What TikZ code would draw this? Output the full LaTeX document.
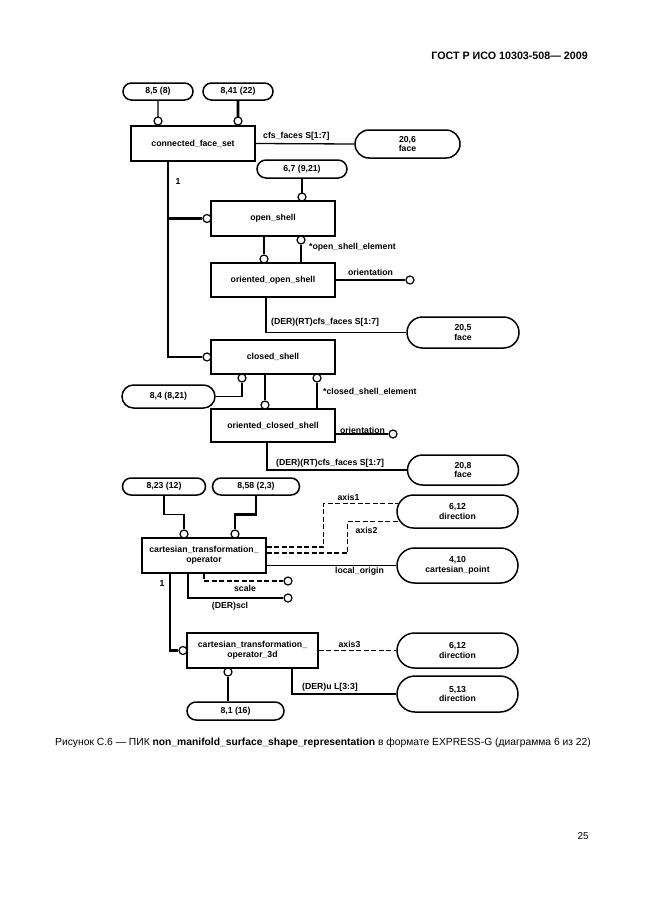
\documentclass[tikz,border=0pt]{standalone}
\usepackage{fontspec}
\setmainfont{Liberation Sans}
\usetikzlibrary{shapes.misc,calc}
\newcommand\dgf{\bfseries\fontsize{8.7}{9.6}\selectfont}
\begin{document}
\begin{tikzpicture}[x=1pt,y=-1pt,
  font=\dgf,
  ebox/.style={draw,line width=1.5pt,inner sep=0pt,align=center,minimum width=124pt,minimum height=35pt},
  oval/.style={rounded rectangle,draw,line width=1.5pt,inner sep=0pt,align=center},
  ln/.style={line width=1.3pt},
  thk/.style={line width=2.8pt},
  dsh/.style={line width=1.3pt,dash pattern=on 5pt off 2.5pt},
  circ/.style={circle,draw,fill=white,line width=1.2pt,minimum size=8pt,inner sep=0pt},
  lbl/.style={inner sep=0pt,font=\dgf}
]
\useasboundingbox (0,0) rectangle (646,913);
\fill[white] (0,0) rectangle (646,913);

% header, caption, page number
\node[anchor=east,inner sep=0pt,font=\bfseries\fontsize{10.7}{12}\selectfont] (hdr) at (588,56) {ГОСТ Р ИСО 10303-508— 2009};
\node[anchor=west,inner sep=0pt,font=\fontsize{10.3}{11}\selectfont] (cap) at (55,743) {Рисунок С.6 — ПИК \textbf{non\_manifold\_surface\_shape\_representation} в формате EXPRESS-G (диаграмма 6 из 22)};
\node[anchor=east,inner sep=0pt,font=\fontsize{10}{11}\selectfont] (pg) at (589,836) {25};

% ovals (references)
\node[oval,minimum width=70pt,minimum height=17pt] (o85) at (158,91.5) {8,5 (8)};
\node[oval,minimum width=70pt,minimum height=17pt] (o841) at (238,91.5) {8,41 (22)};
\node[oval,minimum width=105pt,minimum height=28pt] (o206) at (407.5,144) {20,6\\face};
\node[oval,minimum width=90pt,minimum height=18pt] (o67) at (302,169) {6,7 (9,21)};
\node[oval,minimum width=112pt,minimum height=31pt] (o205) at (463,332.5) {20,5\\face};
\node[oval,minimum width=93pt,minimum height=23pt] (o84) at (168.5,396.5) {8,4 (8,21)};
\node[oval,minimum width=111pt,minimum height=30pt] (o208) at (463,470) {20,8\\face};
\node[oval,minimum width=83pt,minimum height=17pt] (o823) at (164,486.5) {8,23 (12)};
\node[oval,minimum width=87pt,minimum height=17pt] (o858) at (256,486.5) {8,58 (2,3)};
\node[oval,minimum width=121pt,minimum height=33pt] (o612a) at (457.5,511.5) {6,12\\direction};
\node[oval,minimum width=121pt,minimum height=35pt] (o410) at (457.5,565.5) {4,10\\cartesian\_point};
\node[oval,minimum width=121pt,minimum height=35pt] (o612b) at (457.5,650.5) {6,12\\direction};
\node[oval,minimum width=121pt,minimum height=36pt] (o513) at (457.5,694) {5,13\\direction};
\node[oval,minimum width=97pt,minimum height=18pt] (o81) at (235.5,711) {8,1 (16)};

% entity boxes
\node[ebox] (cfs) at (193,143.5) {connected\_face\_set};
\node[ebox] (os) at (273,218.5) {open\_shell};
\node[ebox,minimum height=34pt] (oos) at (273,280) {oriented\_open\_shell};
\node[ebox,minimum height=34pt] (cs) at (273,357) {closed\_shell};
\node[ebox,minimum height=33pt] (ocs) at (273,425.5) {oriented\_closed\_shell};
\node[ebox] (cto) at (204,555.5) {cartesian\_transformation\_\\operator};
\node[ebox,minimum width=131pt] (cto3) at (252.5,650.5) {cartesian\_transformation\_\\operator\_3d};

% helper coordinates
\coordinate (vx) at (168,0);

% connected_face_set
\draw[ln] (o85) -- (158,121) node[circ] (c85) {};
\draw[thk] (o841) -- (238,121) node[circ] (c841) {};
\draw[ln] (cfs.east) -- (o206.west);
\node[lbl,anchor=west] (l1) at (263,136) {cfs\_faces S[1:7]};
\node[lbl] (n1a) at (178,182) {1};

% supertype tree
\node[circ] (cos) at (207,218.5) {};
\node[circ] (ccs) at (207,357) {};
\draw[thk] (cfs.south -| vx) |- (ccs);
\draw[thk] (vx |- cos) -- (cos);

% open_shell
\draw[ln] (o67) -- (302,197) node[circ] (c67) {};
\node[circ] (cose) at (301,240) {};
\draw[ln] (cose) -- (cose |- oos.north);
\node[lbl,anchor=west] (l2) at (309,247) {*open\_shell\_element};
\node[circ] (coos) at (264,259) {};
\draw[thk] (os.south -| coos) -- (coos);
\node[circ] (cor1) at (410,280) {};
\draw[ln] (oos.east) -- (cor1);
\node[lbl] (l3) at (370.5,272) {orientation};
\coordinate (x1) at (266,0);
\draw[ln] (oos.south -| x1) |- (o205.west);
\node[lbl,anchor=west] (l4) at (271,322) {(DER)(RT)cfs\_faces S[1:7]};

% closed_shell
\node[circ] (ccs1) at (242,378) {};
\draw[ln] (ccs1) |- (o84);
\node[circ] (cocs) at (265,405) {};
\draw[thk] (cs.south -| cocs) -- (cocs);
\node[circ] (ccse) at (317,378) {};
\draw[ln] (ccse) -- (ccse |- ocs.north);
\node[lbl,anchor=west] (l5) at (323,392) {*closed\_shell\_element};
\node[circ] (cor2) at (393,434) {};
\draw[ln] (ocs.east |- cor2) -- (cor2);
\node[lbl,anchor=south] (l6) at (362.5,433.5) {orientation};
\coordinate (x2) at (267,0);
\draw[ln] (ocs.south -| x2) |- (o208.west);
\node[lbl,anchor=west] (l7) at (276,463) {(DER)(RT)cfs\_faces S[1:7]};

% cartesian_transformation_operator
\node[circ] (cA) at (184,534) {};
\node[circ] (cB) at (235,534) {};
\draw[ln] (o823.south) -- ++(0,18.5) -| (cA);
\draw[thk] (o858.south) -- ++(0,18.5) -| (cB);
\draw[dsh] ([yshift=8.5pt]cto.east) -- ++(57,0) |- (o612a.172);
\node[lbl] (l8) at (348.5,497) {axis1};
\draw[dsh] ([yshift=2.5pt]cto.east) -- ++(81,0) |- (o612a.190);
\node[lbl] (l9) at (366.5,530) {axis2};
\draw[ln] (cto.east |- o410.west) -- (o410.west);
\node[lbl] (l10) at (359.5,571) {local\_origin};
\node[circ] (cS) at (288,581) {};
\draw[dsh] (cto.south) |- (cS);
\node[lbl] (l11) at (245,588.5) {scale};
\node[circ] (cD) at (288,598) {};
\draw[ln] ([xshift=-16pt]cto.south) |- (cD);
\node[lbl] (l12) at (230,606) {(DER)scl};
\node[lbl] (n1b) at (162,583) {1};
\node[circ] (c3d) at (183,650.5) {};
\draw[thk] ([xshift=-34pt]cto.south) |- (c3d);

% cartesian_transformation_operator_3d
\draw[dsh] (cto3.east) -- (o612b.west);
\node[lbl] (l13) at (349.5,644) {axis3};
\coordinate (x3) at (292,0);
\draw[ln] (cto3.south -| x3) |- (o513.west);
\node[lbl,anchor=west] (l14) at (302,687) {(DER)u L[3:3]};
\node[circ] (c81) at (228,672) {};
\draw[ln] (c81) -- (c81 |- o81.north);
\end{tikzpicture}
\end{document}
